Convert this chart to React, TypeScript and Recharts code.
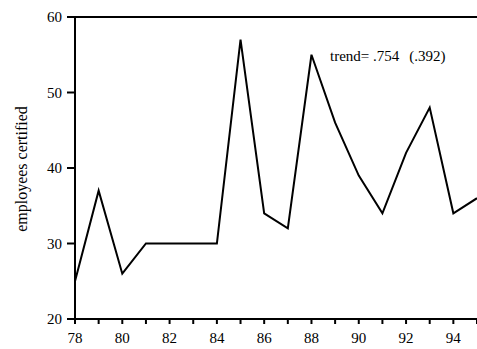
import { LineChart, Line, XAxis, YAxis, ReferenceLine } from 'recharts';

// employees certified per year, 1978-1995
const years = [78, 79, 80, 81, 82, 83, 84, 85, 86, 87, 88, 89, 90, 91, 92, 93, 94, 95];
const certified = [25, 37, 26, 30, 30, 30, 30, 57, 34, 32, 55, 46, 39, 34, 42, 48, 34, 36];
const yTicks = [20, 30, 40, 50, 60];
const trendValue = '.754';
const trendSe = '(.392)';
const yLabel = 'employees certified';

const data = years.map((year, i) => ({ year, certified: certified[i] }));

const font = "'Liberation Serif', 'Times New Roman', serif";

export default function App() {
  return (
    <div style={{ position: 'absolute', left: 0, top: 0, width: 477, height: 349, background: '#fff' }}>
      <style>{`svg text { font-family: ${font} !important; }`}</style>
      <LineChart
        width={477}
        height={349}
        data={data}
        margin={{ top: 17, right: 0, bottom: 0, left: 0 }}
      >
        <XAxis
          dataKey="year"
          type="number"
          domain={[78, 95]}
          ticks={years}
          interval={0}
          height={30}
          tickFormatter={(v: number) => (v % 2 === 0 ? String(v) : '')}
          tick={{ fill: '#000', fontSize: 15 }}
          tickSize={5}
          tickMargin={8}
          tickLine={{ stroke: '#000', strokeWidth: 2 }}
          axisLine={{ stroke: '#000', strokeWidth: 2 }}
        />
        <YAxis
          type="number"
          domain={[20, 60]}
          ticks={yTicks}
          width={75}
          tick={{ fill: '#000', fontSize: 15 }}
          tickSize={8}
          tickMargin={5}
          tickLine={{ stroke: '#000', strokeWidth: 2 }}
          axisLine={{ stroke: '#000', strokeWidth: 2 }}
          label={{
            value: yLabel,
            content: () => (
              <text
                x={21}
                y={169}
                transform="rotate(-90 21 169)"
                textAnchor="middle"
                dominantBaseline="central"
                fontSize={16}
                fill="#000"
              >
                {yLabel}
              </text>
            ),
          }}
        />
        <ReferenceLine y={60} stroke="#000" strokeWidth={2} />
        <Line
          type="linear"
          dataKey="certified"
          stroke="#000"
          strokeWidth={2}
          dot={false}
          activeDot={false}
          isAnimationActive={false}
        />
      </LineChart>
      <svg width={477} height={349} style={{ position: 'absolute', left: 0, top: 0, pointerEvents: 'none' }}>
        <text x={330} y={61} fontSize={15} fill="#000">
          {`trend= ${trendValue}`}
          <tspan dx={10}>{trendSe}</tspan>
        </text>
      </svg>
    </div>
  );
}
